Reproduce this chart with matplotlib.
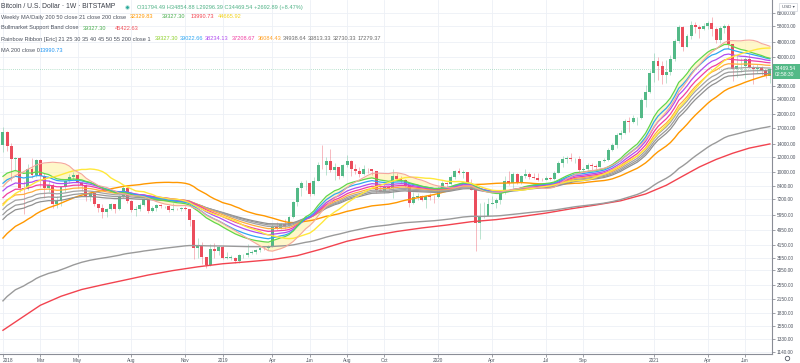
import matplotlib
matplotlib.use("Agg")
import matplotlib.pyplot as plt
import matplotlib.dates as mdates
from matplotlib.lines import Line2D
from matplotlib.patches import Rectangle
from matplotlib.ticker import FixedLocator, FixedFormatter, NullLocator
import numpy as np
import pandas as pd

plt.rcParams['font.family'] = ['Liberation Sans', 'DejaVu Sans']

W, H = 800, 363

# weekly closes of 2017, off screen, only used to warm up the moving averages
close_2017 = [910, 820, 925, 915, 1015, 1000, 1050, 1150, 1270, 1230, 1020, 965, 1090,
              1190, 1180, 1240, 1350, 1550, 1770, 2050, 2200, 2520, 2950, 2500, 2550, 2500,
              2500, 1930, 2750, 2750, 3230, 4050, 4080, 4350, 4600, 4200, 3700, 3650, 4400,
              4600, 5700, 6000, 6150, 7400, 5950, 8050, 9300, 11300, 15000, 19100, 13900, 13850]

# weekly candles, BTC/USD, week of 2018-01-01 .. week of 2021-07-19
first_open = 13850.0
close = [
    16200, 13600, 11600, 11800, 8200, 8100, 10400, 9600, 11500, 9500, 8200, 8500, 6800,
    7000, 8350, 8900, 9350, 9650, 8700, 8500, 7350, 7700, 6750, 6450, 6150, 6350,
    6750, 6350, 7400, 8200, 7000, 6300, 6400, 6700, 7200, 6200, 6500, 6700, 6600,
    6600, 6300, 6400, 6350, 6500, 6350, 5600, 4000, 4100, 3600, 3250, 3950, 3850,
    4050, 3550, 3550, 3550, 3400, 3650, 3650, 3750, 3800, 3900, 4000, 3980, 4100,
    5200, 5100, 5300, 5200, 5800, 6950, 8200, 8700, 8750, 7650, 8950, 10900, 10800,
    11450, 10200, 10600, 9500, 10800, 11400, 10300, 10150, 9750, 10400, 10300, 10050, 8050,
    7850, 8300, 8200, 9550, 9200, 9050, 8500, 6900, 7400, 7500, 7100, 7500, 7400,
    7350, 8200, 8700, 8600, 9350, 10150, 9900, 9950, 8550, 8050, 5400, 5850, 5900,
    6800, 6900, 7150, 7700, 8900, 8700, 9700, 8700, 9450, 9750, 9350, 9300, 9100,
    9070, 9300, 9200, 9900, 11100, 11700, 11850, 11650, 11700, 10250, 10300, 10900, 10750,
    10650, 11350, 11500, 13050, 13800, 15500, 15950, 18400, 18200, 19150, 19200, 23850, 26300, 33000,
    38200, 35800, 32300, 33100, 38900, 48600, 57500, 45200, 51200, 59000, 57400, 55800, 58200,
    59800, 56200, 49000, 56600, 58300, 46400, 34700, 35600, 35800, 39100, 35500, 34700, 35300,
    34250, 31794.49, 34469.54]
high = [
    17250, 16300, 14200, 12000, 12000, 9000, 11000, 11800, 11700, 11700, 9900, 9100, 8700,
    7500, 8400, 9000, 9750, 9990, 9800, 8900, 8600, 7800, 7800, 6800, 6800, 6500,
    6850, 6800, 7600, 8500, 8300, 7150, 6600, 6900, 7300, 7400, 6600, 6800, 6800,
    6650, 6700, 6900, 6500, 6550, 6600, 6400, 5600, 4500, 4300, 3600, 4200, 4250,
    4100, 4150, 3800, 3650, 3600, 3700, 3700, 4200, 3900, 3950, 4050, 4100, 4150,
    5350, 5450, 5400, 5650, 5850, 7000, 8350, 8950, 9100, 8800, 9350, 11250, 13850,
    12000, 13200, 11100, 10650, 10950, 12300, 11500, 10950, 10600, 10900, 10450, 10350, 10100,
    8500, 8800, 8400, 10400, 9800, 9500, 9150, 8550, 7850, 7700, 7600, 7550, 7700,
    7600, 8450, 9000, 8800, 9600, 10200, 10500, 10250, 10000, 9200, 8180, 6900, 6950,
    7250, 7450, 7300, 7750, 9450, 10050, 9950, 9850, 9600, 10400, 10000, 9800, 9800,
    9300, 9450, 9350, 10100, 11450, 12100, 12100, 12500, 11800, 12100, 10600, 11100, 11050,
    10950, 11450, 11750, 13350, 14100, 15950, 16450, 18800, 19400, 19900, 19400, 24300, 28400, 34000,
    41950, 40100, 37850, 38500, 40900, 49700, 58350, 58000, 52650, 61750, 60650, 58400, 60000,
    61300, 64900, 57000, 57950, 59600, 59500, 46700, 40800, 39500, 40000, 41300, 36100, 36650,
    35950, 34650, 34854.88]
low = [
    12750, 12800, 9000, 10100, 7800, 6000, 8000, 9300, 9400, 8300, 7300, 7800, 6500,
    6500, 6600, 7800, 8700, 9050, 8200, 7900, 7000, 7050, 6650, 6150, 5750, 5800,
    6300, 6100, 6300, 7300, 6900, 6150, 5900, 6250, 6650, 6100, 6150, 6200, 6450,
    6450, 6150, 6250, 6300, 6250, 6300, 5200, 3500, 3550, 3300, 3150, 3200, 3550,
    3650, 3500, 3500, 3450, 3350, 3350, 3550, 3600, 3700, 3700, 3800, 3900, 3900,
    4050, 4950, 5000, 5000, 5150, 5700, 6600, 7500, 8000, 7450, 7550, 8900, 10300,
    9650, 10000, 9100, 9150, 9400, 10600, 9500, 9750, 9400, 9600, 9900, 9650, 7750,
    7800, 7750, 7900, 7300, 8950, 8700, 8300, 6550, 6800, 7150, 7000, 6450, 7100,
    6850, 7300, 8050, 8250, 8550, 9150, 9700, 9300, 8450, 8000, 3850, 4450, 5700,
    5850, 6750, 6450, 6800, 7650, 8550, 8200, 8650, 8650, 9300, 9200, 9200, 8950,
    8900, 9050, 9050, 9100, 9850, 10600, 11100, 11350, 11150, 9900, 9850, 10200, 10150,
    10400, 10550, 11200, 11400, 12850, 13300, 14850, 15800, 16200, 18100, 17600, 19000, 21800, 26000,
    29500, 30400, 28850, 29250, 32300, 37950, 47000, 43000, 44950, 49300, 53300, 50400, 55000,
    55600, 51500, 47100, 47000, 53000, 43800, 30000, 31200, 33400, 31000, 34800, 28800, 32700,
    32200, 31100, 29296.39]

# 200-week SMA
sma200w_dates = ['2018-01-01', '2018-02-05', '2018-03-05', '2018-04-09', '2018-05-14', '2018-06-18',
                 '2018-07-23', '2018-09-03', '2018-10-15', '2018-11-26', '2019-01-07', '2019-02-18',
                 '2019-04-01', '2019-05-13', '2019-06-24', '2019-08-05', '2019-09-16', '2019-10-28',
                 '2019-12-09', '2020-01-20', '2020-03-02', '2020-04-13', '2020-05-25', '2020-07-06',
                 '2020-08-17', '2020-09-28', '2020-11-09', '2020-12-21', '2021-01-25', '2021-02-22',
                 '2021-03-22', '2021-04-19', '2021-05-17', '2021-06-14', '2021-07-19']
sma200w_vals = [1480, 1750, 2000, 2230, 2420, 2560, 2700, 2880, 3040, 3180, 3300, 3380,
                3470, 3640, 3950, 4330, 4620, 4870, 5080, 5260, 5480, 5620, 5830, 6080,
                6400, 6700, 7050, 7650, 8500, 9500, 10600, 11600, 12500, 13300, 13990]

ema200_start = 2110.0
ribbon_periods = [21, 25, 30, 35, 40, 45, 50, 55]
ribbon_colors = ['#62d64a', '#2fa6f2', '#b04ef0', '#f03fa2', '#ffae3d', '#a3a3a3', '#9a9a9a', '#909090']

price_ticks = [1140, 1330, 1550, 1830, 2150, 2550, 3050, 3550, 4150, 4950, 5950, 7200, 8400,
               10000, 12000, 14000, 17000, 20000, 24000, 28000, 40000, 48000, 58000, 68000]
month_ticks = ['2018-01-01', '2018-03-05', '2018-05-07', '2018-08-06', '2018-11-05', '2019-01-07',
               '2019-04-01', '2019-06-03', '2019-08-05', '2019-10-07', '2020-01-06', '2020-04-06',
               '2020-07-06', '2020-09-07', '2021-01-04', '2021-04-05', '2021-06-07']
month_labels = ['2018', 'Mar', 'May', 'Aug', 'Nov', '2019', 'Apr', 'Jun', 'Aug', 'Oct',
                '2020', 'Apr', 'Jul', 'Sep', '2021', 'Apr', 'Jun']

UP, DOWN = '#53b987', '#eb4d5c'
AXIS_TXT = '#4c525e'


def fpos(x, y):
    return x / W, 1 - y / H


weeks = pd.date_range('2018-01-01', periods=len(close), freq='7D')
xs = mdates.date2num(weeks)
o = np.array([first_open] + close[:-1], dtype=float)
c = np.array(close, dtype=float)
hi = np.array(high, dtype=float)
lo = np.array(low, dtype=float)

full = pd.Series(close_2017 + close, dtype=float)
n0 = len(close_2017)
sma20 = full.rolling(20).mean().to_numpy()[n0:]
sma_d200 = full.rolling(29).mean().to_numpy()[n0:]
sma50 = full.rolling(50).mean().to_numpy()[n0:]
ribbon = [full.ewm(span=p, adjust=False).mean().to_numpy()[n0:] for p in ribbon_periods]
ema200 = pd.Series([ema200_start] + close[1:], dtype=float).ewm(span=200, adjust=False).mean().to_numpy()

fig = plt.figure(figsize=(W / 100, H / 100), dpi=100)
ax = fig.add_axes([0, 9 / H, 772 / W, 354 / H])
ax.set_yscale('log')

# bull market support band fill
ax.fill_between(xs, sma20, ribbon[0], color='#fff2a6', alpha=0.6, lw=0, zorder=2)

# candles
cols = np.where(c >= o, UP, DOWN)
ax.vlines(xs, lo, hi, colors=cols, lw=0.6, alpha=0.45, zorder=3)
ax.bar(xs, np.maximum(np.abs(c - o), c * 0.004), bottom=np.minimum(o, c), width=5,
       color=cols, lw=0, zorder=4)

# moving averages
ax.plot(mdates.date2num(pd.to_datetime(sma200w_dates)), sma200w_vals, color='#f2434f', lw=1.0, zorder=6)
ax.plot(xs, ema200, color='#9a9a9a', lw=1.0, zorder=6)
ax.plot(xs, sma50, color='#ff9800', lw=1.0, zorder=6)
for vals, col in reversed(list(zip(ribbon, ribbon_colors))):
    ax.plot(xs, vals, color=col, lw=0.9, zorder=7)
ax.plot(xs, sma_d200, color='#ffe83b', lw=1.0, zorder=8)
ax.plot(xs, sma20, color='#f5a79d', lw=0.8, zorder=8)

ax.axhline(close[-1], color=UP, lw=0.5, ls=(0, (1, 2)), alpha=0.8, zorder=5)

# axes
x0 = mdates.date2num(pd.Timestamp('2018-01-01'))
ax.set_xlim(x0 - 5, x0 + 1298.5)
ax.set_ylim(1112, 79300)
ax.yaxis.tick_right()
ax.yaxis.set_major_locator(FixedLocator(price_ticks))
ax.yaxis.set_major_formatter(FixedFormatter([f'{v:.2f}' for v in price_ticks]))
ax.yaxis.set_minor_locator(NullLocator())
ax.xaxis.set_major_locator(FixedLocator(mdates.date2num(pd.to_datetime(month_ticks))))
ax.xaxis.set_major_formatter(FixedFormatter(month_labels))
ax.xaxis.set_minor_locator(NullLocator())
ax.tick_params(axis='y', which='major', length=2, width=0.5, pad=1.5, labelsize=3.4,
               colors='#787b86', labelcolor=AXIS_TXT)
ax.tick_params(axis='x', which='major', length=2, width=0.5, pad=1, labelsize=3.4,
               colors='#787b86', labelcolor=AXIS_TXT)
ax.grid(True, which='major', color='#edf0f6', lw=0.6, zorder=0)
for s in ['left', 'top']:
    ax.spines[s].set_visible(False)
for s in ['right', 'bottom']:
    ax.spines[s].set_color('#8a8d96')
    ax.spines[s].set_linewidth(0.8)

# keep the first date label inside the figure
fig.canvas.draw()
first_lbl = ax.get_xticklabels()[0]
first_lbl.set_horizontalalignment('left')
first_lbl.set_x(first_lbl.get_position()[0])

# legend block, top left
fig.text(*fpos(1, 7), 'Bitcoin / U.S. Dollar · 1W · BITSTAMP', fontsize=4.9, color='#3a3e48', va='center')
fig.add_artist(Line2D([127 / W], [1 - 6.5 / H], marker='o', ms=2.6, color='#26a69a', mec='#b9e6dc', mew=0.6))
fig.text(*fpos(137, 7), 'O31794.49 H34854.88 L29296.39 C34469.54 +2692.89 (+8.47%)',
         fontsize=4.1, color='#4fb286', va='center')

legend_rows = [
    (17, 'Weekly MA/Daily 200 50 close 21 close 200 close',
     [(130, '32329.83', '#ff9800'), (162, '39327.30', '#4caf50'),
      (191, '13990.73', '#f2434f'), (218, '44665.92', '#f2d21b')]),
    (28, 'Bullmarket Support Band close',
     [(83, '39327.30', '#4caf50'), (115, '45422.63', '#f0505a')]),
    (39, 'Rainbow Ribbon [Eric] 21 25 30 35 40 45 50 55 200 close 1',
     [(155, '39327.30', '#8fd12e'), (180, '39022.66', '#2fa6f2'), (205, '38234.13', '#b04ef0'),
      (232, '37208.67', '#f03fa2'), (258, '36084.43', '#ffa126'), (283, '34938.64', '#6b6b6b'),
      (308, '33813.33', '#6b6b6b'), (333, '32730.33', '#6b6b6b'), (358, '17279.37', '#6b6b6b')]),
    (50, 'MA 200 close 0', [(40, '13990.73', '#2196f3')]),
]
for y, label, vals in legend_rows:
    fig.text(*fpos(1, y), label, fontsize=4.1, color='#4c525e', va='center')
    for x, txt, col in vals:
        fig.text(*fpos(x, y), txt, fontsize=4.1, color=col, va='center')

# last price tag
fig.add_artist(Rectangle(fpos(773, 79), 27 / W, 15 / H, transform=fig.transFigure,
                         color=UP, lw=0, zorder=10))
fig.text(*fpos(775, 68), '34469.54', fontsize=3.6, color='white', va='center', zorder=11)
fig.text(*fpos(775, 75), '02:58:30', fontsize=3.6, color='white', va='center', zorder=11)

# currency box
fig.add_artist(Rectangle(fpos(779, 11), 18 / W, 8 / H, transform=fig.transFigure,
                         facecolor='white', edgecolor='#d1d4dc', lw=0.5, zorder=10))
fig.text(*fpos(788, 7), 'USD ▾', fontsize=3.2, color=AXIS_TXT, ha='center', va='center', zorder=11)

# settings icon
fig.add_artist(Line2D([787 / W], [1 - 358 / H], marker='o', ms=3.2, mfc='none', mec='#555a66', mew=0.6))

fig.savefig('out.png', dpi=100)
